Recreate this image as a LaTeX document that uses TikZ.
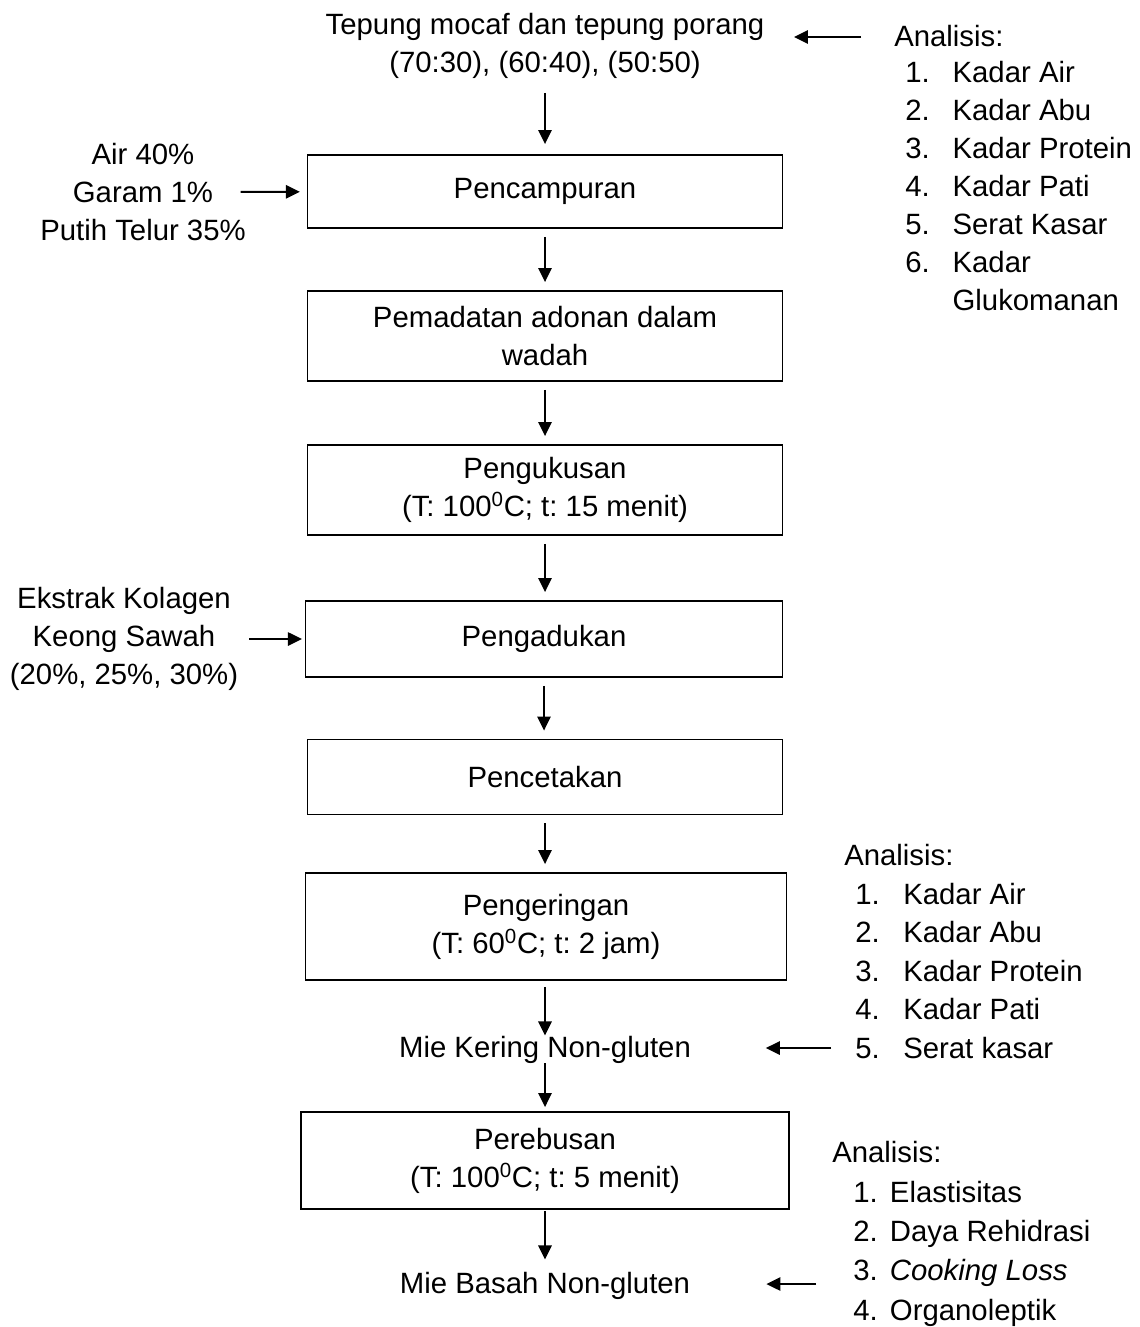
\documentclass[tikz,border=0pt]{standalone}
\usepackage{fontspec}
\setmainfont{Liberation Sans}
\usetikzlibrary{arrows.meta}
\frenchspacing
\begin{document}
\begin{tikzpicture}[x=0.75pt,y=-0.75pt,
  every node/.style={font=\fontsize{22}{28.5}\selectfont\frenchspacing, inner sep=0pt},
  procbox/.style={draw, line width=1.4pt, align=center},
  txt/.style={align=center},
  arr/.style={line width=1.4pt, -{Triangle[length=10.5pt,width=10pt]}},
  vgap/.style={shorten <=6pt, shorten >=6pt}]
\useasboundingbox (0,0) rectangle (1139,1327);

% top input
\node[txt] (top) at (545,46) {Tepung mocaf dan tepung porang\\(70:30), (60:40), (50:50)};

% process boxes
\node[procbox, minimum width=475*0.75pt, minimum height=73*0.75pt] (b1) at (545,191.5) {Pencampuran};
\node[procbox, minimum width=475*0.75pt, minimum height=90*0.75pt] (b2) at (545,336) {Pemadatan adonan dalam\\wadah};
\node[procbox, minimum width=475*0.75pt, minimum height=90*0.75pt] (b3) at (545,490) {Pengukusan\\(T: 100\textsuperscript{0}C; t: 15 menit)};
\node[procbox, minimum width=477*0.75pt, minimum height=76*0.75pt] (b4) at (544,639) {Pengadukan};
\node[procbox, minimum width=475*0.75pt, minimum height=75*0.75pt] (b5) at (545,777) {Pencetakan};
\node[procbox, minimum width=481*0.75pt, minimum height=107*0.75pt] (b6) at (546,926.5) {Pengeringan\\(T: 60\textsuperscript{0}C; t: 2 jam)};
\node[txt, anchor=base] (mk) at (545,1057) {Mie Kering Non-gluten};
\node[procbox, minimum width=488*0.75pt, minimum height=97*0.75pt] (b7) at (545,1160.5) {Perebusan\\(T: 100\textsuperscript{0}C; t: 5 menit)};
\node[txt, anchor=base] (mb) at (545,1293) {Mie Basah Non-gluten};

% left inputs
\node[txt] (in1) at (143,192) {Air 40\%\\Garam 1\%\\Putih Telur 35\%};
\node[txt] (in2) at (124,639) {Ekstrak Kolagen\\Keong Sawah\\(20\%, 25\%, 30\%)};

% analyses
\node[anchor=base west] (h1) at (894,47) {Analisis:};
\node[anchor=base west] (l1) at (905,83) {\begin{tabular}[t]{@{}p{35.5pt}@{}l@{}}1. & Kadar Air\\2. & Kadar Abu\\3. & Kadar Protein\\4. & Kadar Pati\\5. & Serat Kasar\\6. & Kadar\\ & Glukomanan\end{tabular}};

\node[anchor=base west] (h2) at (844,865) {Analisis:};
\node[anchor=base west] (l2) at (855,904) {\renewcommand{\arraystretch}{1.015}\begin{tabular}[t]{@{}p{36pt}@{}l@{}}1. & Kadar Air\\2. & Kadar Abu\\3. & Kadar Protein\\4. & Kadar Pati\\5. & Serat kasar\end{tabular}};

\node[anchor=base west] (h3) at (832,1162) {Analisis:};
\node[anchor=base west] (l3) at (853,1202) {\renewcommand{\arraystretch}{1.035}\begin{tabular}[t]{@{}p{27.5pt}@{}l@{}}1. & Elastisitas\\2. & Daya Rehidrasi\\3. & \textit{Cooking Loss}\\4. & Organoleptik\end{tabular}};

% free ends of the analysis arrows
\coordinate (a1) at (861,37);
\coordinate (a2) at (831,1048);
\coordinate (a3) at (816,1284);

% vertical flow (kept vertical at the upper node's x)
\draw[arr, shorten <=10.5pt, shorten >=7.5pt] (top.south) -- (top.south |- b1.north);
\draw[arr, vgap] (b1.south) -- (b1.south |- b2.north);
\draw[arr, vgap] (b2.south) -- (b2.south |- b3.north);
\draw[arr, vgap] (b3.south) -- (b3.south |- b4.north);
\draw[arr, vgap] (b4.south) -- (b4.south |- b5.north);
\draw[arr, vgap] (b5.south) -- (b5.south |- b6.north);
\draw[arr, shorten <=4.5pt] (mk.north |- b6.south) -- (mk.north);
\draw[arr, shorten >=3pt] (mk.south) -- (mk.south |- b7.north);
\draw[arr, shorten <=1pt, shorten >=9pt] (b7.south) -- (b7.south |- mb.north);

% side inputs
\draw[arr, shorten <=-4pt, shorten >=5pt] (in1) -- (b1);
\draw[arr, shorten <=8pt, shorten >=2pt] (in2) -- (b4);

% analysis arrows
\draw[arr, shorten >=22pt] (a1) -- (a1 -| top.east);
\draw[arr, shorten >=56pt] (a2) -- (a2 -| mk.east);
\draw[arr, shorten >=57pt] (a3) -- (a3 -| mb.east);
\end{tikzpicture}
\end{document}
